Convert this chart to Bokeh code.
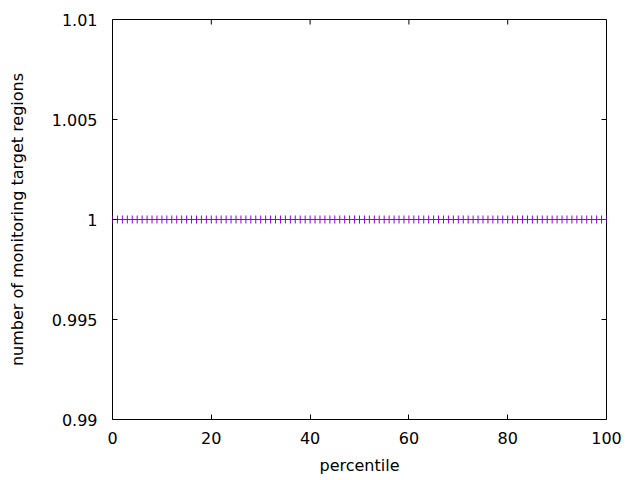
import math
from bokeh.plotting import figure
from bokeh.models import LinearAxis, FixedTicker, Range1d, ColumnDataSource
from bokeh.embed import file_html
from bokeh.resources import INLINE

# data
percentile = list(range(0, 101))
regions = [1] * 101
x_ticks = [0, 20, 40, 60, 80, 100]
x_tick_labels = ["0", "20", "40", "60", "80", "100"]
y_ticks = [0.99, 0.995, 1.0, 1.005, 1.01]
y_tick_labels = ["0.99", "0.995", "1", "1.005", "1.01"]

FONT = "DejaVu Sans"
FS = "16px"

p = figure(width=640, height=480,
           x_range=Range1d(x_ticks[0], x_ticks[-1]), y_range=Range1d(y_ticks[0], y_ticks[-1]),
           output_backend="svg", toolbar_location=None,
           min_border_left=112, min_border_top=19, min_border_right=34,
           min_border_bottom=61, x_axis_location=None, y_axis_location=None)
p.grid.visible = False
p.outline_line_color = "black"
p.outline_line_width = 1
p.background_fill_color = "white"


def make_axis(ticks, labels):
    ax = LinearAxis(ticker=FixedTicker(ticks=ticks))
    ax.major_tick_in = 5
    ax.major_tick_out = 0
    ax.minor_tick_in = 0
    ax.minor_tick_out = 0
    ax.axis_line_color = None
    ax.major_tick_line_color = "black"
    ax.major_tick_line_width = 1
    ax.major_label_overrides = {t: l for t, l in zip(ticks, labels)}
    ax.major_label_text_font = FONT
    ax.major_label_text_font_size = FS
    ax.major_label_text_color = "black"
    ax.axis_label_text_font = FONT
    ax.axis_label_text_font_size = FS
    ax.axis_label_text_font_style = "normal"
    ax.axis_label_text_color = "black"
    return ax


xb = make_axis(x_ticks, x_tick_labels)
xb.major_label_standoff = 12
xb.axis_label = "percentile"
xb.axis_label_standoff = 9
p.add_layout(xb, "below")

yl = make_axis(y_ticks, y_tick_labels)
yl.major_label_standoff = 15
yl.axis_label = "number of monitoring target regions"
yl.axis_label_standoff = 22
p.add_layout(yl, "left")

# mirrored inward ticks on top and right edges
p.ray(x=x_ticks, y=[y_ticks[-1]] * len(x_ticks), length=5, length_units="screen",
      angle=-math.pi / 2, line_color="black", line_width=1)
p.ray(x=[x_ticks[-1]] * len(y_ticks), y=y_ticks, length=5, length_units="screen",
      angle=math.pi, line_color="black", line_width=1)

src = ColumnDataSource(dict(x=percentile, y=regions))
p.scatter("x", "y", source=src, marker="cross", size=8, line_color="#9400D3", line_width=1)

open("out.html", "w").write(file_html(p, INLINE))
